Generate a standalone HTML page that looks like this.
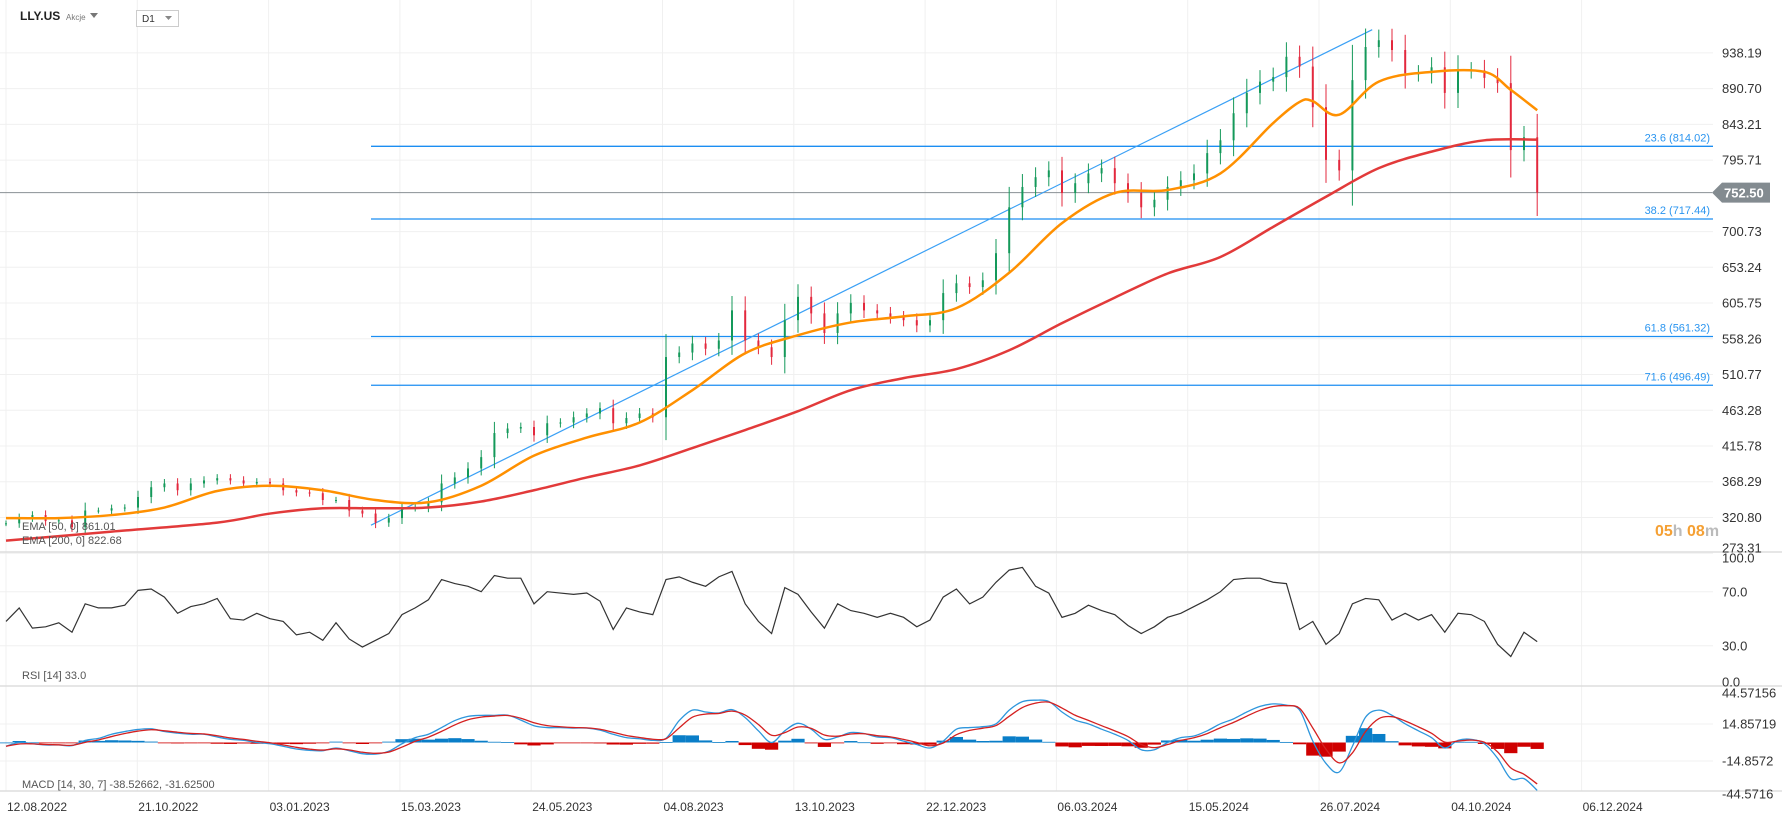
<!DOCTYPE html>
<html><head><meta charset="utf-8"><style>
html,body{margin:0;padding:0;background:#fff;}
svg{display:block;font-family:"Liberation Sans",sans-serif;}
</style></head><body>
<svg id="chart" width="1782" height="824" viewBox="0 0 1782 824" xmlns="http://www.w3.org/2000/svg">
<g id="grid"></g>
<g id="price"></g>
<g id="rsi"></g>
<g id="macd"></g>
<g id="axes"></g>
<g>
  <text x="20" y="20" font-size="12" font-weight="bold" fill="#222">LLY.US</text>
  <text x="66" y="20" font-size="8" fill="#777">Akcje</text>
  <path d="M90 13 L98 13 L94 18 Z" fill="#777"/>
  <rect x="136.5" y="10.5" width="42" height="16" fill="#fff" stroke="#ccc"/>
  <text x="142" y="22" font-size="10" fill="#333">D1</text>
  <path d="M165 16 L172 16 L168.5 20 Z" fill="#888"/>
</g>
<g>
  <text x="22" y="530" font-size="11" fill="#555">EMA [50, 0] 861.01</text>
  <text x="22" y="544" font-size="11" fill="#555">EMA [200, 0] 822.68</text>
  <text x="22" y="679" font-size="11" fill="#555">RSI [14] 33.0</text>
  <text x="22" y="788" font-size="11" fill="#555">MACD [14, 30, 7] -38.52662, -31.62500</text>
  <text x="1655" y="536" font-size="16" font-weight="bold"><tspan fill="#f5a033">05</tspan><tspan fill="#bbb">h </tspan><tspan fill="#f5a033">08</tspan><tspan fill="#bbb">m</tspan></text>
</g>
</svg>
<script>
const closes=[313,320,324,316,317,308,330,330,333,334,348,361,366,357,366,370,373,370,366,368,366,357,354,353,344,344,330,326,314,320,333,334,341,366,374,386,401,433,439,441,430,446,447,454,459,466,446,453,459,454,534,540,552,545,556,596,556,547,534,583,614,592,566,592,606,596,592,587,583,576,583,619,632,627,636,672,733,760,773,782,752,765,778,785,765,752,733,743,760,769,778,805,822,858,885,900,906,933,920,866,796,782,902,946,955,942,911,911,919,885,915,915,905,898,809,826,752.5];
const ema50Idx=[0,4,8,12,16,20,24,28,32,36,40,44,48,52,56,60,64,68,72,76,80,84,88,92,96,98,99,101,104,108,112,114,116];
const ema50Val=[320,320,324,334,356,363,357,344,341,363,403,427,447,490,539,563,580,588,599,646,712,752,756,778,845,873,874,856,900,913,913,889,862];
const ema200Idx=[0,8,16,20,24,28,32,36,40,44,48,52,56,60,64,68,72,76,80,84,88,92,96,100,104,108,112,116];
const ema200Val=[290,302,314,326,333,333,334,342,357,374,390,413,437,462,490,506,518,543,579,613,645,667,707,747,785,807,822,823];
const rsiVals=[48,58,43,44,47,40,61,58,58,60,71,72,66,54,59,61,65,50,49,54,50,48,38,40,34,47,35,29,34,39,53,58,64,79,76,74,70,82,80,80,61,70,69,68,69,63,42,58,55,53,79,81,77,74,81,85,61,48,39,73,68,55,43,61,56,54,51,54,51,44,49,66,72,61,66,77,86,88,74,69,51,54,60,56,53,45,39,44,51,54,59,64,70,79,80,80,77,76,42,48,31,39,61,65,64,49,54,49,53,40,54,53,48,31,22,40,33];
const macdVals=[-3,0,-1,-2,-2,-2.5,1.7,3.3,6.6,8.8,10.5,11,8.8,7.5,6.6,6.6,4.4,2.5,1.7,0,-1,-3,-5.2,-6.3,-6.6,-4.4,-6.6,-9,-9.3,-7,-1,3.9,6.6,12,17.6,21,21.8,21.8,22,18,13.5,12,12,11.6,11.6,9.9,6.6,3.9,3,1.7,3.3,17.6,26,24.5,23.7,26.4,20,9.4,0,9.4,15.4,10.7,2.5,4.4,8,7.2,4.4,3.9,1.1,-1.6,-4.4,1.1,10.7,12,12.7,15,26,32.8,34,33,24.5,18,15,10.7,6.6,1.7,-5.8,-5.8,0,3.9,5.2,9.4,15,19,24.5,29,31,30,26,1.1,-16.8,-23.7,-3,20.4,26,21.8,15,9.4,3.9,-4.4,1.7,2.5,-1,-12.7,-29,-29,-38.5];
const priceTicks=["938.19","890.70","843.21","795.71","700.73","653.24","605.75","558.26","510.77","463.28","415.78","368.29","320.80","273.31"];
const fibLevels=[814.02,717.44,561.32,496.49];
const fibLabels=["23.6 (814.02)","38.2 (717.44)","61.8 (561.32)","71.6 (496.49)"];
const dateLabels=["12.08.2022","21.10.2022","03.01.2023","15.03.2023","24.05.2023","04.08.2023","13.10.2023","22.12.2023","06.03.2024","15.05.2024","26.07.2024","04.10.2024","06.12.2024"];
const trendStart=[27.65,310.5], trendEnd=[103.5,969];
const lastPrice=752.5;

const NS="http://www.w3.org/2000/svg";
function el(tag,attrs,parent,txt){const e=document.createElementNS(NS,tag);for(const k in attrs)e.setAttribute(k,attrs[k]);if(txt!==undefined)e.textContent=txt;parent.appendChild(e);return e;}
const X=i=>6+i*13.2;
const Y=p=>219+(717.44-p)*0.7525;
const RY=r=>591.7+(70-r)*1.35;
const MY=v=>742.5-v*1.245;
const PLOT_R=1713;
function smooth(pts){let d='M'+pts[0][0]+' '+pts[0][1];
 for(let i=0;i<pts.length-1;i++){const p0=pts[Math.max(0,i-1)],p1=pts[i],p2=pts[i+1],p3=pts[Math.min(pts.length-1,i+2)];
  const c1=[p1[0]+(p2[0]-p0[0])/6,p1[1]+(p2[1]-p0[1])/6],c2=[p2[0]-(p3[0]-p1[0])/6,p2[1]-(p3[1]-p1[1])/6];
  d+=` C${c1[0]} ${c1[1]} ${c2[0]} ${c2[1]} ${p2[0]} ${p2[1]}`;}
 return d;}
const grid=document.getElementById('grid'),price=document.getElementById('price'),rsi=document.getElementById('rsi'),macd=document.getElementById('macd'),axes=document.getElementById('axes');

dateLabels.forEach((d,k)=>{const x=6+k*131.3;
 const g=el('line',{x1:x,x2:x,y1:0,y2:791,stroke:'#f0f0f0','stroke-width':1},grid);
 
 const t=el('text',{x:x+1,y:811,'font-size':12,fill:'#333'},axes,d);
 });
priceTicks.forEach(s=>{const y=Y(parseFloat(s));
 const g=el('line',{x1:0,x2:PLOT_R,y1:y,y2:y,stroke:'#f0f0f0'},grid);
 
 const t=el('text',{x:1722,y:Math.min(y,548)+4.5,'font-size':13,fill:'#333'},axes,s);
 });
[552,686,791].forEach(y=>{const l=el('line',{x1:0,x2:1782,y1:y,y2:y,stroke:'#ddd','stroke-width':1.5},grid);
 });
[70,30].forEach(r=>{const l=el('line',{x1:0,x2:PLOT_R,y1:RY(r),y2:RY(r),stroke:'#f0f0f0'},grid);
 });
[14.85719,-14.8572].forEach(v=>{const l=el('line',{x1:0,x2:PLOT_R,y1:MY(v),y2:MY(v),stroke:'#f0f0f0'},grid);
 });
[["100.0",558],["70.0",592],["30.0",646],["0.0",682]].forEach(a=>{const t=el('text',{x:1722,y:a[1]+4.5,'font-size':13,fill:'#333'},axes,a[0]);
 });
[["44.57156",693],["14.85719",724],["-14.8572",761],["-44.5716",794]].forEach(a=>{const t=el('text',{x:1722,y:a[1]+4.5,'font-size':13,fill:'#333'},axes,a[0]);
 });

fibLevels.forEach((p,k)=>{const y=Y(p);
 const l=el('line',{x1:371,x2:PLOT_R,y1:y,y2:y,stroke:'#1b8ef2','stroke-width':1.3},price);
 
 const t=el('text',{x:1710,y:y-5,'font-size':11,fill:'#2a95f0','text-anchor':'end'},price,fibLabels[k]);
 });
const cl=el('line',{x1:0,x2:1712,y1:Y(lastPrice),y2:Y(lastPrice),stroke:'#8a9094','stroke-width':1},price);

const tl=el('line',{x1:X(trendStart[0]),y1:Y(trendStart[1]),x2:X(trendEnd[0]),y2:Y(trendEnd[1]),stroke:'#3aa0f5','stroke-width':1.2},price);

closes.forEach((c,i)=>{const o=i?closes[i-1]:c;const up=c>=o;const hi=Math.max(o,c)+Math.abs(c-o)*0.3+c*0.012,lo=Math.min(o,c)-Math.abs(c-o)*0.3-c*0.012;
 const col=up?'#14995a':'#e3283d';const x=X(i);
 const w=el('line',{x1:x,x2:x,y1:Y(hi),y2:Y(lo),stroke:col,'stroke-width':1},price);
 
 const b=el('rect',{x:x-1,y:Y(Math.max(o,c)),width:2,height:Math.max(1,Math.abs(Y(o)-Y(c))),fill:col},price);
 });
const ema50=el('path',{d:smooth(ema50Idx.map((ix,k)=>[X(ix),Y(ema50Val[k])])),fill:'none',stroke:'#ff9000','stroke-width':2.5,'stroke-linejoin':'round'},price);

const ema200=el('path',{d:smooth(ema200Idx.map((ix,k)=>[X(ix),Y(ema200Val[k])])),fill:'none',stroke:'#e23a3a','stroke-width':2.5,'stroke-linejoin':'round'},price);

const fy=Y(lastPrice);
const flag=el('path',{d:`M1712 ${fy} L1722 ${fy-10} L1770 ${fy-10} L1770 ${fy+10} L1722 ${fy+10} Z`,fill:'#838b90'},price);

const ft=el('text',{x:1724,y:fy+5,'font-size':13,fill:'#fff','font-weight':'bold'},price,lastPrice.toFixed(2));

const rl=el('polyline',{points:rsiVals.map((r,i)=>X(i)+','+RY(r)).join(' '),fill:'none',stroke:'#333','stroke-width':1.2},rsi);

const signal=[];macdVals.forEach((v,i)=>signal.push(i?signal[i-1]+0.6*(v-signal[i-1]):v));
macdVals.forEach((v,i)=>{const h=v-signal[i];const y0=MY(0),y1=MY(h);
 const r=el('rect',{x:X(i)-6.6,y:Math.min(y0,y1),width:13.2,height:Math.max(0.8,Math.abs(y1-y0)),fill:h>=0?'#0a7ec8':'#cf0000'},macd);
 });
const ml=el('path',{d:smooth(macdVals.map((v,i)=>[X(i),MY(v)])),fill:'none',stroke:'#2e96dc','stroke-width':1.3},macd);

const sl=el('path',{d:smooth(signal.map((v,i)=>[X(i),MY(v)])),fill:'none',stroke:'#d42020','stroke-width':1.3},macd);

</script>
</body></html>
